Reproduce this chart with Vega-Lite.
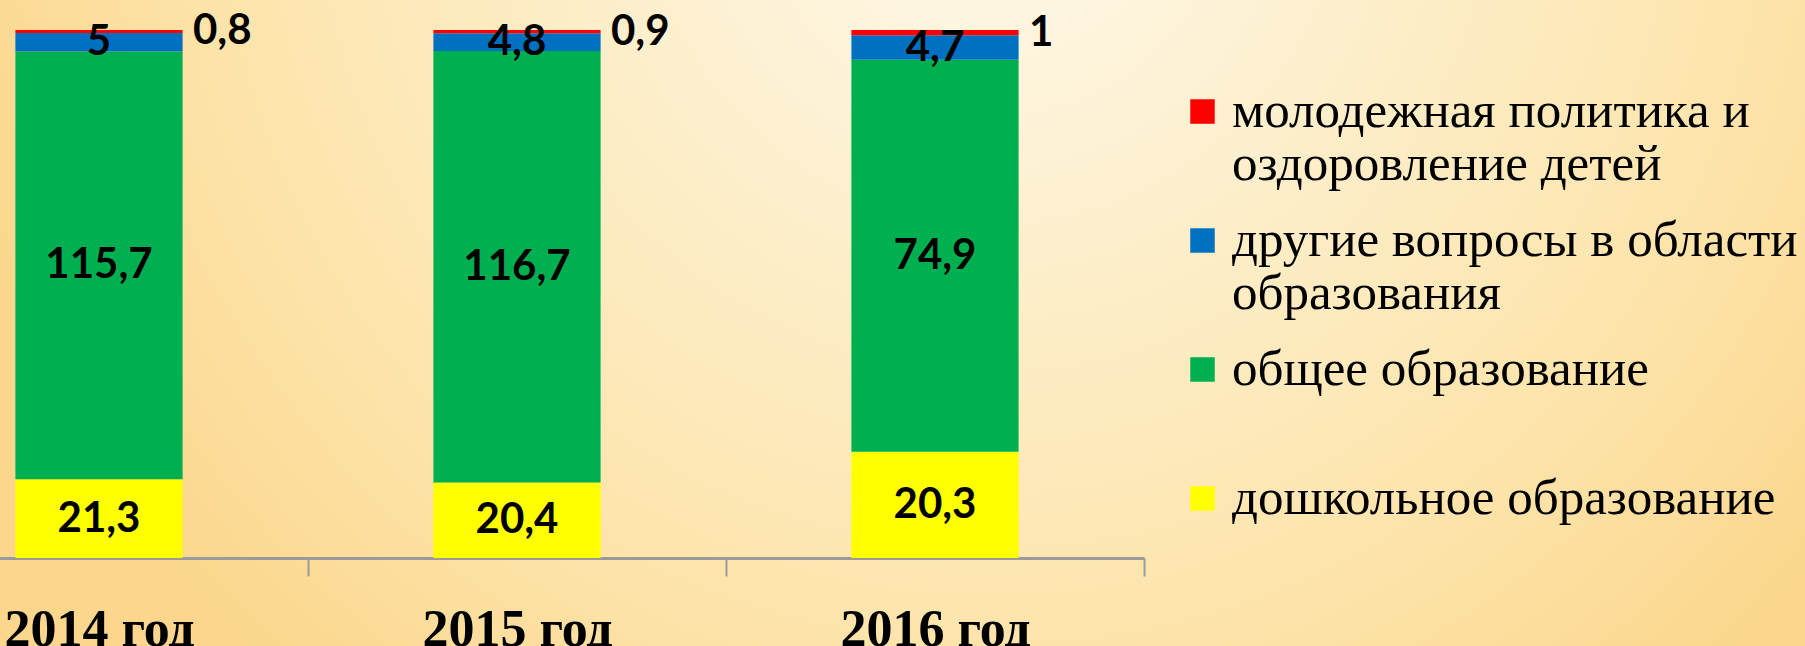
{
  "$schema": "https://vega.github.io/schema/vega-lite/v6.json",
  "width": 1805,
  "height": 646,
  "autosize": "none",
  "padding": 0,
  "background": "#fde3a8",
  "view": {
    "stroke": null,
    "fill": {
      "gradient": "radial",
      "x1": 0.55, "y1": 0.25, "r1": 0,
      "x2": 0.55, "y2": 0.25, "r2": 0.6,
      "stops": [
        {"offset": 0, "color": "#fff9ec"},
        {"offset": 0.33, "color": "#fdf0cf"},
        {"offset": 0.75, "color": "#fde3a8"},
        {"offset": 1, "color": "#fbd68c"}
      ]
    }
  },
  "config": {
    "locale": {"number": {"decimal": ",", "thousands": " ", "grouping": [3], "currency": ["", ""]}}
  },
  "data": {
    "values": [
      {"year": "2014 год", "cat": "дошкольное образование", "k": 1, "value": 21.3},
      {"year": "2014 год", "cat": "общее образование", "k": 2, "value": 115.7},
      {"year": "2014 год", "cat": "другие вопросы в области образования", "k": 3, "value": 5},
      {"year": "2014 год", "cat": "молодежная политика и оздоровление детей", "k": 4, "value": 0.8},
      {"year": "2015 год", "cat": "дошкольное образование", "k": 1, "value": 20.4},
      {"year": "2015 год", "cat": "общее образование", "k": 2, "value": 116.7},
      {"year": "2015 год", "cat": "другие вопросы в области образования", "k": 3, "value": 4.8},
      {"year": "2015 год", "cat": "молодежная политика и оздоровление детей", "k": 4, "value": 0.9},
      {"year": "2016 год", "cat": "дошкольное образование", "k": 1, "value": 20.3},
      {"year": "2016 год", "cat": "общее образование", "k": 2, "value": 74.9},
      {"year": "2016 год", "cat": "другие вопросы в области образования", "k": 3, "value": 4.7},
      {"year": "2016 год", "cat": "молодежная политика и оздоровление детей", "k": 4, "value": 1}
    ]
  },
  "encoding": {
    "x": {
      "field": "year",
      "type": "nominal",
      "sort": null,
      "scale": {"range": [-110, 1144], "paddingInner": 0, "paddingOuter": 0},
      "axis": {
        "title": null,
        "orient": "bottom",
        "offset": -88,
        "labelAngle": 0,
        "labelFont": "Liberation Serif",
        "labelFontWeight": "bold",
        "labelFontSize": 52,
        "labelColor": "#000000",
        "labelBaseline": "top",
        "labelPadding": 28,
        "labelLimit": 400,
        "domainColor": "#9a9a9a",
        "domainWidth": 3,
        "tickColor": "#9a9a9a",
        "tickWidth": 2,
        "tickSize": 18,
        "tickBand": "extent",
        "grid": false
      }
    },
    "order": {"field": "k", "type": "quantitative"}
  },
  "layer": [
    {
      "mark": {"type": "bar", "width": {"band": 0.4}},
      "encoding": {
        "y": {
          "field": "value",
          "type": "quantitative",
          "stack": "normalize",
          "scale": {"domain": [0, 1], "range": [558, 30]},
          "axis": null
        },
        "color": {
          "field": "cat",
          "type": "nominal",
          "scale": {
            "domain": ["молодежная политика и оздоровление детей", "другие вопросы в области образования", "общее образование", "дошкольное образование"],
            "range": ["#ff0000", "#0070c0", "#00b050", "#ffff00"]
          },
          "legend": {
            "title": null,
            "orient": "none",
            "legendX": 1177,
            "legendY": 86,
            "symbolType": "square",
            "symbolSize": 600,
            "symbolStrokeWidth": 0,
            "labelFont": "Liberation Serif",
            "labelFontSize": 51,
            "labelColor": "#000000",
            "labelLineHeight": 58,
            "labelOffset": 4,
            "labelLimit": 800,
            "labelBaseline": "middle",
            "rowPadding": 24,
            "padding": 0,
            "labelExpr": "datum.label == 'молодежная политика и оздоровление детей' ? ['молодежная политика и', 'оздоровление детей'] : datum.label == 'другие вопросы в области образования' ? ['другие вопросы в области', 'образования'] : [datum.label, '']"
          }
        }
      }
    },
    {
      "mark": {"type": "text", "font": "Lato", "fontWeight": "bold", "fontSize": 42, "color": "#000000", "baseline": "middle", "align": "center"},
      "encoding": {
        "y": {"field": "value", "type": "quantitative", "stack": "normalize", "bandPosition": 0.5},
        "detail": {"field": "cat"},
        "text": {"field": "value", "type": "quantitative", "format": "~g", "condition": {"test": "datum.k === 4", "value": ""}}
      }
    },
    {
      "mark": {"type": "text", "font": "Lato", "fontWeight": "bold", "fontSize": 42, "color": "#000000", "baseline": "middle", "align": "left", "dx": 94},
      "encoding": {
        "y": {"field": "value", "type": "quantitative", "stack": "normalize", "bandPosition": 0.5},
        "detail": {"field": "cat"},
        "text": {"field": "value", "type": "quantitative", "format": "~g", "condition": {"test": "datum.k !== 4", "value": ""}}
      }
    }
  ]
}
